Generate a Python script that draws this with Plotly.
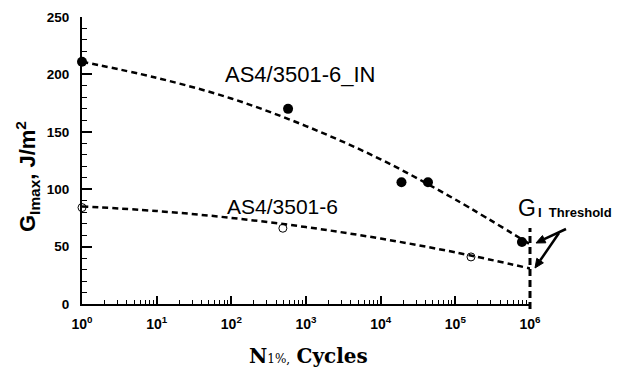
import math
import plotly.graph_objects as go

# data points
in_cycles = [1, 575, 19000, 43000, 780000]
in_g = [211, 170, 106, 106, 54]
base_cycles = [1, 490, 162000]
base_g = [84, 66, 41]

# dashed trend curves read at each decade
curve_cycles = [1, 10, 100, 1000, 10000, 100000, 1000000]
in_curve = [211, 197, 179, 155, 126, 91, 52]
base_curve = [85, 81, 75, 67, 57, 45, 31]

x_ticks = [1, 10, 100, 1000, 10000, 100000, 1000000]
x_ticktext = ["10<sup>%d</sup>" % i for i in range(7)]
y_ticks = [0, 50, 100, 150, 200, 250]

font = "Liberation Sans, Arial, sans-serif"
serif = "DejaVu Serif, Liberation Serif, serif"

# the page body has an 8px margin, so the figure is drawn 8px in from the window corner
OFF = 8
W, H = 624 - OFF, 374 - OFF
L, R, T, B = 82 - OFF, 94, 9, 70
PW, PH = W - L - R, H - T - B


def px(x, y):
    """convert window pixel coordinates (as in the reference) to paper coordinates"""
    return (x - OFF - L) / PW, (H - B - (y - OFF)) / PH


fig = go.Figure()
fig.add_trace(go.Scatter(x=curve_cycles, y=in_curve, mode="lines", line_shape="spline",
                         line=dict(color="black", width=2.5, dash="6px,4px"), showlegend=False))
fig.add_trace(go.Scatter(x=curve_cycles, y=base_curve, mode="lines", line_shape="spline",
                         line=dict(color="black", width=2.5, dash="6px,4px"), showlegend=False))
fig.add_trace(go.Scatter(x=in_cycles, y=in_g, mode="markers", cliponaxis=False,
                         marker=dict(symbol="circle", size=10, color="black"), showlegend=False))
fig.add_trace(go.Scatter(x=base_cycles, y=base_g, mode="markers", cliponaxis=False,
                         marker=dict(symbol="circle-open", size=8, color="black", line=dict(width=1)),
                         showlegend=False))

# threshold vertical dashed line at 10^6 (right edge of plot)
x0, y0 = px(530, 309)
x1, y1 = px(530, 228)
fig.add_shape(type="line", xref="paper", yref="paper", x0=x0, x1=x1, y0=y0, y1=y1,
              line=dict(color="black", width=3, dash="7px,4px"))


def arrow(tail, head, size=9, half=4):
    tx, ty = tail
    hx, hy = head
    d = math.hypot(hx - tx, hy - ty)
    ux, uy = (hx - tx) / d, (hy - ty) / d
    bx, by = hx - ux * size, hy - uy * size
    nx, ny = -uy, ux
    a = px(tx, ty)
    b = px(bx, by)
    fig.add_shape(type="line", xref="paper", yref="paper", x0=a[0], y0=a[1], x1=b[0], y1=b[1],
                  line=dict(color="black", width=2.5))
    p1 = px(hx, hy)
    p2 = px(bx + nx * half, by + ny * half)
    p3 = px(bx - nx * half, by - ny * half)
    path = "M %f %f L %f %f L %f %f Z" % (p1[0], p1[1], p2[0], p2[1], p3[0], p3[1])
    fig.add_shape(type="path", xref="paper", yref="paper", path=path,
                  fillcolor="black", line=dict(color="black", width=1))


arrow((566, 229), (536, 243))
arrow((559, 233), (535, 268))

fig.add_annotation(x=2.92, y=200, xref="x", yref="y", text="AS4/3501-6_IN", showarrow=False,
                   font=dict(family=font, size=22, color="black"), xanchor="center", yanchor="middle")
fig.add_annotation(x=2.69, y=85, xref="x", yref="y", text="AS4/3501-6", showarrow=False,
                   font=dict(family=font, size=21, color="black"), xanchor="center", yanchor="middle")

# "G_I Threshold"
gx, gy = px(516, 208)
fig.add_annotation(x=gx, y=gy, xref="paper", yref="paper", text="G", showarrow=False,
                   font=dict(family=font, size=23, color="black"), xanchor="left", yanchor="middle")
gx, gy = px(536, 213)
fig.add_annotation(x=gx, y=gy, xref="paper", yref="paper", text="<b>I  Threshold</b>", showarrow=False,
                   font=dict(family=font, size=13, color="black"), xanchor="left", yanchor="middle")

# axis titles as annotations for exact placement
tx, ty = px(27, 177)
fig.add_annotation(x=tx, y=ty, xref="paper", yref="paper", textangle=-90, showarrow=False,
                   text="<b>G<sub>Imax</sub>, J/m<sup>2</sup></b>",
                   font=dict(family=font, size=22, color="black"), xanchor="center", yanchor="middle")
tx, ty = px(308, 356)
fig.add_annotation(x=tx, y=ty, xref="paper", yref="paper", showarrow=False,
                   text="<b>N</b><span style='font-size:12px'>1%,</span> <b>Cycles</b>",
                   font=dict(family=serif, size=20, color="black"), xanchor="center", yanchor="middle")

fig.update_layout(
    width=W, height=H,
    margin=dict(l=L, r=R, t=T, b=B, autoexpand=False),
    paper_bgcolor="white", plot_bgcolor="white",
    font=dict(family=font, color="black"),
    showlegend=False,
)
fig.update_xaxes(type="log", range=[0, 6], tickvals=x_ticks, ticktext=x_ticktext, automargin=False,
                 ticklabeloverflow="allow", ticklabelstandoff=6,
                 showline=True, linecolor="black", linewidth=2, showgrid=False, zeroline=False,
                 ticks="inside", ticklen=8, tickwidth=1.5, tickcolor="black",
                 minor=dict(ticks="inside", ticklen=4, tickwidth=1, tickcolor="black", dtick="D1", showgrid=False),
                 tickfont=dict(family=font, size=14, color="black", weight="bold"))
fig.update_yaxes(range=[0, 250], tickvals=y_ticks, automargin=False,
                 ticklabeloverflow="allow", ticklabelstandoff=8,
                 showline=True, linecolor="black", linewidth=2, showgrid=False, zeroline=False,
                 ticks="inside", ticklen=10, tickwidth=1.5, tickcolor="black",
                 minor=dict(ticks="inside", ticklen=5, tickwidth=1, tickcolor="black", dtick=10, showgrid=False),
                 tickfont=dict(family=font, size=13.5, color="black", weight="bold"))

fig.write_html("out.html")
